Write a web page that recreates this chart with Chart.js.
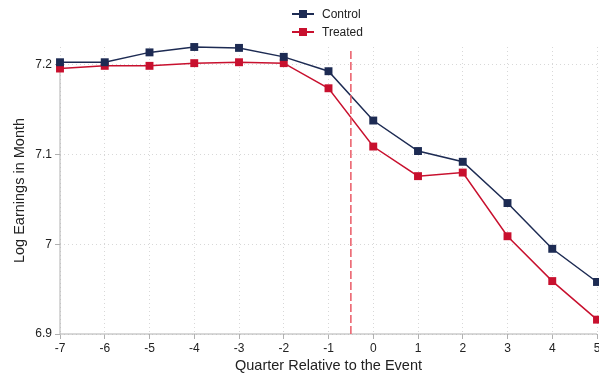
<!DOCTYPE html>
<html>
<head>
<meta charset="utf-8">
<script src="https://cdn.jsdelivr.net/npm/chart.js@4.4.0/dist/chart.umd.min.js"></script>
<style>
  html, body { margin: 0; padding: 0; background: #fff; }
  #wrap { position: relative; width: 599px; height: 375px; font-family: "Liberation Sans", Arial, sans-serif; }
  #legend { position: absolute; top: 5px; left: 292px; font-size: 12px; color: #222; }
  .item { display: flex; align-items: center; height: 18px; }
  .sym { position: relative; width: 22px; height: 10px; margin-right: 8px; }
  .sym .ln { position: absolute; left: 0; right: 0; top: 4px; height: 2px; }
  .sym .mk { position: absolute; left: 7px; top: 1px; width: 8px; height: 8px; }
</style>
</head>
<body>
<div id="wrap">
  <canvas id="chart" width="599" height="375"></canvas>
  <div id="legend"></div>
</div>
<script>
// Data
const quarters = [-7, -6, -5, -4, -3, -2, -1, 0, 1, 2, 3, 4, 5];
const controlVals = [7.203, 7.203, 7.214, 7.220, 7.219, 7.209, 7.193, 7.138, 7.104, 7.092, 7.046, 6.995, 6.958];
const treatedVals = [7.196, 7.199, 7.199, 7.202, 7.203, 7.202, 7.174, 7.109, 7.076, 7.080, 7.009, 6.959, 6.916];
const yTicks = [6.9, 7.0, 7.1, 7.2];
const EVENT_LINE = -0.5;

const NAVY = '#1d2b53';
const RED = '#c8102e';

// legend (html)
const legend = document.getElementById('legend');
[['Control', NAVY], ['Treated', RED]].forEach(([name, col]) => {
    const d = document.createElement('div');
    d.className = 'item';
    d.innerHTML = `<span class="sym"><span class="ln" style="background:${col}"></span><span class="mk" style="background:${col}"></span></span><span>${name}</span>`;
    legend.appendChild(d);
});

// axis lines only over the tick range, plus dashed event line
const extras = {
    id: 'extras',
    beforeDatasetsDraw(chart) {
        const { ctx, scales: { x, y } } = chart;
        const x0 = x.getPixelForValue(quarters[0]);
        const x1 = x.getPixelForValue(quarters[quarters.length - 1]);
        const y0 = y.getPixelForValue(yTicks[0]);
        const y1 = y.getPixelForValue(yTicks[yTicks.length - 1]);
        ctx.save();
        ctx.strokeStyle = '#b0b0b0';
        ctx.lineWidth = 1;
        ctx.beginPath();
        ctx.moveTo(x0, y1);
        ctx.lineTo(x0, y0);
        ctx.lineTo(x1, y0);
        ctx.stroke();
        ctx.restore();
    },
    afterDatasetsDraw(chart) {
        const { ctx, chartArea, scales } = chart;
        const x = scales.x.getPixelForValue(EVENT_LINE);
        ctx.save();
        ctx.strokeStyle = '#ea5a66';
        ctx.lineWidth = 1.5;
        ctx.setLineDash([8, 3]);
        ctx.beginPath();
        ctx.moveTo(x, chartArea.top + 4);
        ctx.lineTo(x, chartArea.bottom);
        ctx.stroke();
        ctx.restore();
    }
};

const toXY = vals => quarters.map((q, i) => ({ x: q, y: vals[i] }));

Chart.defaults.font.family = '"Liberation Sans", Arial, sans-serif';
Chart.defaults.color = '#222';

new Chart(document.getElementById('chart'), {
    type: 'line',
    data: {
        datasets: [
            { label: 'Control', data: toXY(controlVals), borderColor: NAVY, backgroundColor: NAVY, clip: false,
              borderWidth: 1.5, pointStyle: 'rect', pointRadius: 5.6, pointBorderWidth: 0, tension: 0 },
            { label: 'Treated', data: toXY(treatedVals), borderColor: RED, backgroundColor: RED, clip: false,
              borderWidth: 1.5, pointStyle: 'rect', pointRadius: 5.6, pointBorderWidth: 0, tension: 0 }
        ]
    },
    options: {
        responsive: false,
        animation: false,
        layout: { autoPadding: false, padding: { top: 47, right: 2, left: 0, bottom: 0 } },
        plugins: { legend: { display: false }, tooltip: { enabled: false } },
        scales: {
            x: {
                type: 'linear', min: -7, max: 5,
                ticks: { stepSize: 1, font: { size: 12 }, padding: 2, callback: v => String(v) },
                grid: { color: '#d8d8d8', tickColor: '#b0b0b0', tickLength: 5, lineWidth: 1 },
                border: { display: false, dash: [1, 3] },
                title: { display: true, text: 'Quarter Relative to the Event', font: { size: 14.5 }, padding: { top: 2, bottom: 0 } },
                afterFit: s => { s.height = 41; s.paddingLeft = 0; s.paddingRight = 0; }
            },
            y: {
                min: 6.9, max: 7.22,
                afterBuildTicks: s => { s.ticks = yTicks.map(v => ({ value: v })); },
                ticks: { font: { size: 12 }, padding: 3, callback: v => String(+v.toFixed(2)) },
                grid: { color: '#d8d8d8', tickColor: '#b0b0b0', tickLength: 5, lineWidth: 1 },
                border: { display: false, dash: [1, 3] },
                title: { display: true, text: 'Log Earnings in Month', font: { size: 14.5 }, padding: { top: 11, bottom: 0 } },
                afterFit: s => { s.width = 60; s.paddingTop = 0; s.paddingBottom = 0; }
            }
        }
    },
    plugins: [extras]
});
</script>
</body>
</html>
